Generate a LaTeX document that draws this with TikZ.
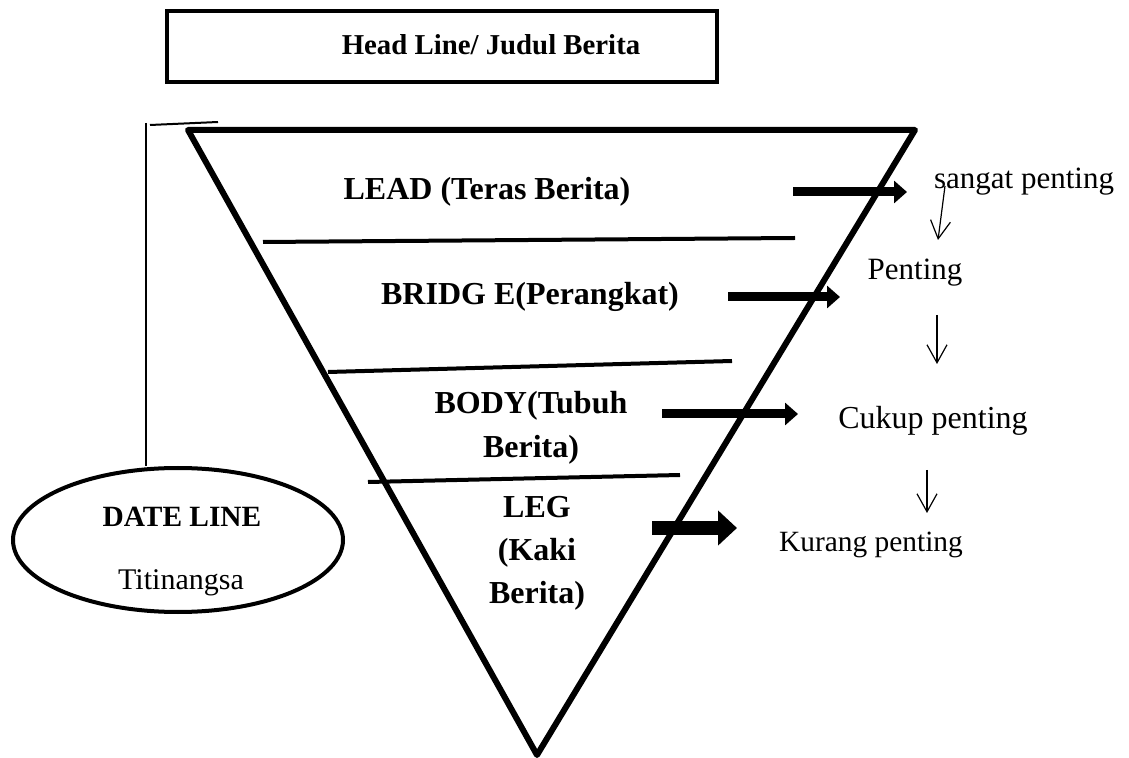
\documentclass[tikz,border=0pt]{standalone}
\usepackage{fontspec}
\setmainfont{Liberation Serif}
\usetikzlibrary{arrows.meta,shapes,calc,positioning}
\tikzset{titlebox/.style={
            draw,
            line width=2pt,
            minimum width=275pt,
            minimum height=35.5pt,
            inner sep=0pt
        },
        part/.style={
            inner sep=0pt,
            align=center,
            font=\bfseries\fontsize{16}{19}\selectfont
        },
        rank/.style={
            inner sep=0pt,
            font=\fontsize{15.5}{18}\selectfont
        },
        datebox/.style={
            draw,
            ellipse,
            line width=2pt,
            minimum width=165pt,
            minimum height=72pt
        },
        funnel/.style={
            line width=3pt,
            line join=round
        },
        divider/.style={
            line width=2pt
        },
        bigarrow/.style={
            line width=4.5pt,
            -{Triangle[length=6.5pt,width=11pt]}
        },
        smallarrow/.style={
            line width=0.6pt,
            -{Straight Barb[length=9pt,width=10pt]}
        }
    }

\begin{document}
\begin{tikzpicture}[x=0.5pt,y=-0.5pt]
        \useasboundingbox (0,0) rectangle (1129,758);

        % judul dan piramida terbalik
        \node[titlebox] (headline) at (442,47) {};
        \node[part, font=\bfseries\fontsize{14.4}{17}\selectfont] (headtext) at (491,45) {Head Line/ Judul Berita};
        \draw[funnel] (188,130) -- (915,130) -- (537,755) -- cycle;
        \draw[divider] (263,242) -- (795,238);
        \draw[divider] (328,372) -- (732,361);
        \draw[divider] (368,482) -- (680,475);

        \node[part] (lead) at (487,192) {LEAD (Teras Berita)};
        \node[part] (bridge) at (530,297) {BRIDG E(Perangkat)};
        \node[part] (body) at (531,428) {BODY(Tubuh\\[3pt]Berita)};
        \node[part] (leg) at (537,553) {LEG\\[2.5pt](Kaki\\[2.5pt]Berita)};

        % date line
        \node[datebox] (dateline) at (178,540) {};
        \node[part, font=\bfseries\fontsize{14.7}{17}\selectfont] (datetext) at (182,517) {DATE LINE};
        \node[rank, font=\fontsize{15}{17}\selectfont] (titi) at (181,583) {Titinangsa};
        \coordinate (corner) at (146,123);
        \draw[line width=1.2pt] (corner) -- (corner |- dateline.north);
        \draw[line width=1pt] (150,125) -- (218,122);

        % tingkat kepentingan
        \node[rank] (sangat) at (1024,182) {sangat penting};
        \node[rank] (penting) at (915,273) {Penting};
        \node[rank, font=\fontsize{16}{18}\selectfont] (cukup) at (933,421) {Cukup penting};
        \node[rank, font=\fontsize{14.7}{17}\selectfont] (kurang) at (871,545) {Kurang penting};

        \coordinate (a1) at (793,192); \coordinate (b1) at (907,192);
        \coordinate (a2) at (728,297); \coordinate (b2) at (840,297);
        \coordinate (a3) at (662,414); \coordinate (b3) at (798,414);
        \coordinate (a4) at (652,528); \coordinate (b4) at (737,528);
        \draw[bigarrow] (a1) -- (b1);
        \draw[bigarrow] (a2) -- (b2);
        \draw[bigarrow] (a3) -- (b3);
        \draw[bigarrow, line width=7pt, -{Triangle[length=9.5pt,width=17pt]}] (a4) -- (b4);

        \draw[smallarrow] (945,186) -- (938,240);
        \draw[smallarrow] (937,315) -- (937,364);
        \draw[smallarrow] (927,470) -- (927,513);

    \end{tikzpicture}
\end{document}
